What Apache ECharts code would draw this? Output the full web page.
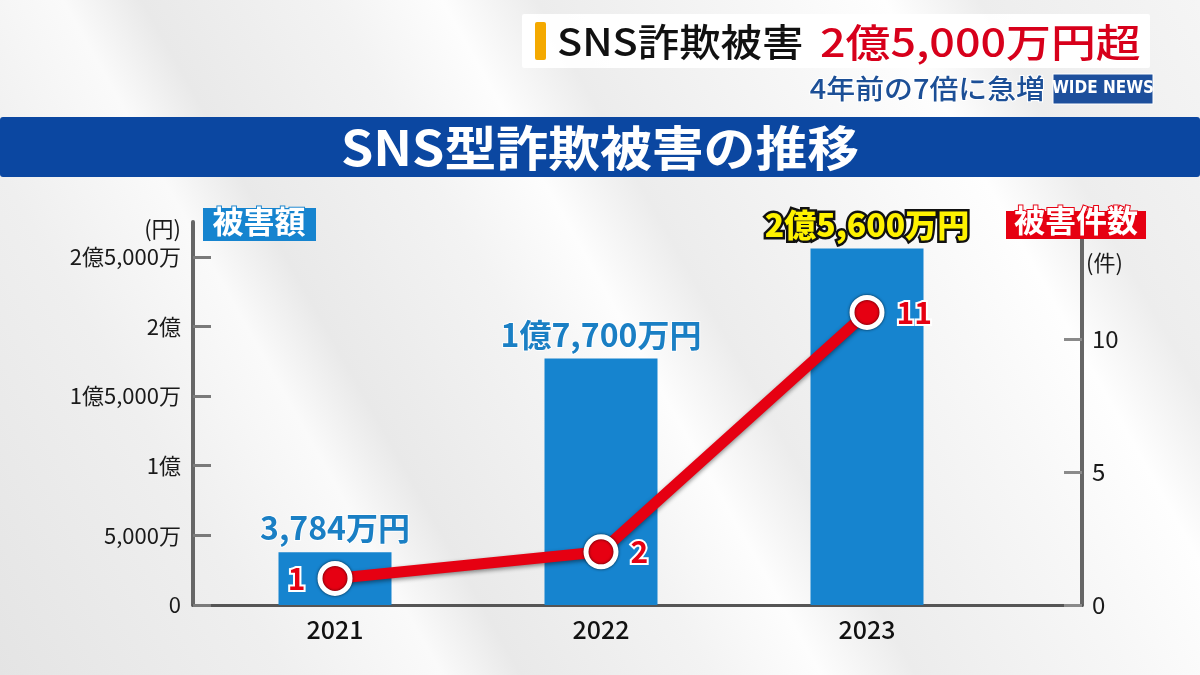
<!DOCTYPE html>
<html><head><meta charset="utf-8">
<script src="https://cdn.jsdelivr.net/npm/echarts@6/dist/echarts.min.js"></script>
<style>html,body{margin:0;padding:0;background:#eee;}#c{width:1200px;height:675px;}</style>
</head><body><div id="c"></div>
<script>
// ---- data ----
const categories = ['2021', '2022', '2023'];
const damageMan = [3784, 17700, 25600];   // 被害額（万円）
const cases = [1, 2, 11];                   // 被害件数（件）
const yenTicks = [0, 5000, 10000, 15000, 20000, 25000];
const caseTicks = [0, 5, 10];
const yenMax = 27500;
const caseMax = 14.4;

const F = '"Noto Sans CJK JP", "Noto Sans", sans-serif';
function comma(n){ return String(n).replace(/\B(?=(\d{3})+(?!\d))/g, ','); }
function yenText(v){
  if (v === 0) return '0';
  const oku = Math.floor(v / 10000), man = v % 10000;
  let s = '';
  if (oku) s += oku + '億';
  if (man) s += comma(man) + '万';
  return s;
}

const chart = echarts.init(document.getElementById('c'), null, {renderer: 'canvas'});
const option = {
  backgroundColor: new echarts.graphic.LinearGradient(0, 1, 1, 0, [
    {offset: 0, color: '#e4e4e4'},
    {offset: 0.18, color: '#efefef'},
    {offset: 0.28, color: '#fafafa'},
    {offset: 0.33, color: '#e9e9e9'},
    {offset: 0.45, color: '#f3f3f3'},
    {offset: 0.52, color: '#fdfdfd'},
    {offset: 0.58, color: '#ececec'},
    {offset: 0.72, color: '#f7f7f7'},
    {offset: 0.8, color: '#fefefe'},
    {offset: 0.86, color: '#ededed'},
    {offset: 1, color: '#f5f5f5'}
  ]),
  animation: false,
  textStyle: {fontFamily: F},
  grid: [
    {left: 193, right: 118, top: 222, bottom: 70},
    {left: 202, right: 200, top: 222, bottom: 70}
  ],
  xAxis: [
    {gridIndex: 0, type: 'category', data: categories,
     axisLine: {lineStyle: {color: '#555', width: 3}},
     axisTick: {show: false}, axisLabel: {show: false}},
    {gridIndex: 1, type: 'category', data: categories,
     axisLine: {show: false}, axisTick: {show: false},
     axisLabel: {fontSize: 25, color: '#111', margin: 12, fontFamily: F, fontWeight: 500}}
  ],
  yAxis: [
    {gridIndex: 0, type: 'value', min: 0, max: yenMax, position: 'left',
     axisLine: {show: true, lineStyle: {color: '#666', width: 4}},
     axisTick: {show: true, inside: true, length: 18, customValues: yenTicks, lineStyle: {color: '#7a7a7a', width: 3}},
     axisLabel: {customValues: yenTicks, formatter: yenText, fontSize: 22, color: '#1a1a1a', margin: 12, fontFamily: F},
     splitLine: {show: false}},
    {gridIndex: 0, type: 'value', min: 0, max: caseMax, position: 'right',
     axisLine: {show: true, lineStyle: {color: '#666', width: 4}},
     axisTick: {show: true, inside: true, length: 18, customValues: caseTicks, lineStyle: {color: '#8a8a8a', width: 3}},
     axisLabel: {customValues: caseTicks, fontSize: 24, color: '#1a1a1a', margin: 10, fontFamily: F},
     splitLine: {show: false}},
    {gridIndex: 1, type: 'value', min: 0, max: yenMax, show: false, splitLine: {show: false}},
    {gridIndex: 1, type: 'value', min: 0, max: caseMax, show: false, splitLine: {show: false}}
  ],
  series: [
    {
      type: 'bar', xAxisIndex: 1, yAxisIndex: 2, barWidth: 113,
      data: damageMan.map((v, i) => i === damageMan.length - 1 ? {
        value: v,
        label: {color: '#fff200', textBorderColor: '#111', textBorderWidth: 5, fontWeight: 900}
      } : v),
      itemStyle: {color: '#1684cf'},
      label: {show: true, position: 'top', distance: 8, formatter: p => yenText(p.value) + '円',
        fontSize: 32, fontWeight: 'bold', color: '#1a7fc4', fontFamily: F,
        textBorderColor: 'rgba(255,255,255,0.8)', textBorderWidth: 2}
    },
    {
      type: 'line', xAxisIndex: 1, yAxisIndex: 3,
      data: cases.map((v, i) => i === 0 ? {value: v, label: {position: 'left'}} : v),
      lineStyle: {color: '#e60012', width: 11, shadowColor: 'rgba(0,0,0,0.45)', shadowBlur: 4, shadowOffsetY: 2},
      symbol: 'circle', symbolSize: 30,
      itemStyle: {color: '#e60012', borderColor: '#fff', borderWidth: 5, shadowColor: 'rgba(0,0,0,0.7)', shadowBlur: 3},
      label: {show: true, position: 'right', distance: 12, fontSize: 30, fontWeight: 'bold', color: '#e60012',
        textBorderColor: '#fff', textBorderWidth: 4, fontFamily: F}
    }
  ],
  graphic: [
    // header box
    {type: 'rect', z: 100, shape: {x: 522, y: 14, width: 628, height: 54, r: 2}, style: {fill: 'rgba(255,255,255,0.95)'}},
    {type: 'rect', z: 101, shape: {x: 535, y: 22, width: 11, height: 38, r: 2}, style: {fill: '#f4a900'}},
    {type: 'text', z: 101, x: 557, y: 42, scaleX: 1.09, style: {x: 0, y: 0, text: 'SNS詐欺被害', fill: '#111', font: '500 38px ' + F, verticalAlign: 'middle'}},
    {type: 'text', z: 101, x: 820, y: 42, scaleX: 1.15, style: {x: 0, y: 0, text: '2億5,000万円超', fill: '#d7001b', font: '500 39px ' + F, verticalAlign: 'middle'}},
    {type: 'text', z: 101, x: 1045, y: 89, scaleX: 1.07, style: {x: 0, y: 0, text: '4年前の7倍に急増', fill: '#1c4f96', font: '500 27px ' + F, align: 'right', verticalAlign: 'middle', stroke: '#fff', lineWidth: 2}},
    {type: 'rect', z: 101, shape: {x: 1053, y: 74, width: 100, height: 30}, style: {fill: '#1d4f9c', stroke: '#fff', lineWidth: 1}},
    {type: 'text', z: 102, style: {x: 1103, y: 89, text: 'WIDE NEWS', fill: '#fff', font: 'bold 17px "DejaVu Sans Condensed", sans-serif', align: 'center', verticalAlign: 'middle'}},
    // title band
    {type: 'rect', z: 100, shape: {x: 0, y: 117, width: 1200, height: 60, r: 3}, style: {fill: '#0b47a1'}},
    {type: 'text', z: 101, x: 600, y: 148, scaleX: 1.08, style: {x: 0, y: 0, text: 'SNS型詐欺被害の推移', fill: '#fff', font: 'bold 48px ' + F, align: 'center', verticalAlign: 'middle'}},
    // axis units
    {type: 'text', z: 100, style: {x: 181, y: 229, text: '(円)', fill: '#1a1a1a', font: '22px ' + F, align: 'right', verticalAlign: 'middle'}},
    {type: 'text', z: 100, style: {x: 1086, y: 263, text: '(件)', fill: '#1a1a1a', font: '22px ' + F, align: 'left', verticalAlign: 'middle'}},
    // legend-like boxes
    {type: 'rect', z: 100, shape: {x: 203, y: 208, width: 113, height: 33}, style: {fill: '#1684cf'}},
    {type: 'text', z: 101, style: {x: 259, y: 221, text: '被害額', fill: '#fff', font: 'bold 31px ' + F, align: 'center', verticalAlign: 'middle', stroke: '#1684cf', lineWidth: 2}},
    {type: 'rect', z: 100, shape: {x: 1006, y: 211, width: 140, height: 28}, style: {fill: '#e60012'}},
    {type: 'text', z: 101, style: {x: 1076, y: 220, text: '被害件数', fill: '#fff', font: 'bold 31px ' + F, align: 'center', verticalAlign: 'middle', stroke: '#e60012', lineWidth: 2}}
  ]
};
chart.setOption(option);
</script>
</body></html>
